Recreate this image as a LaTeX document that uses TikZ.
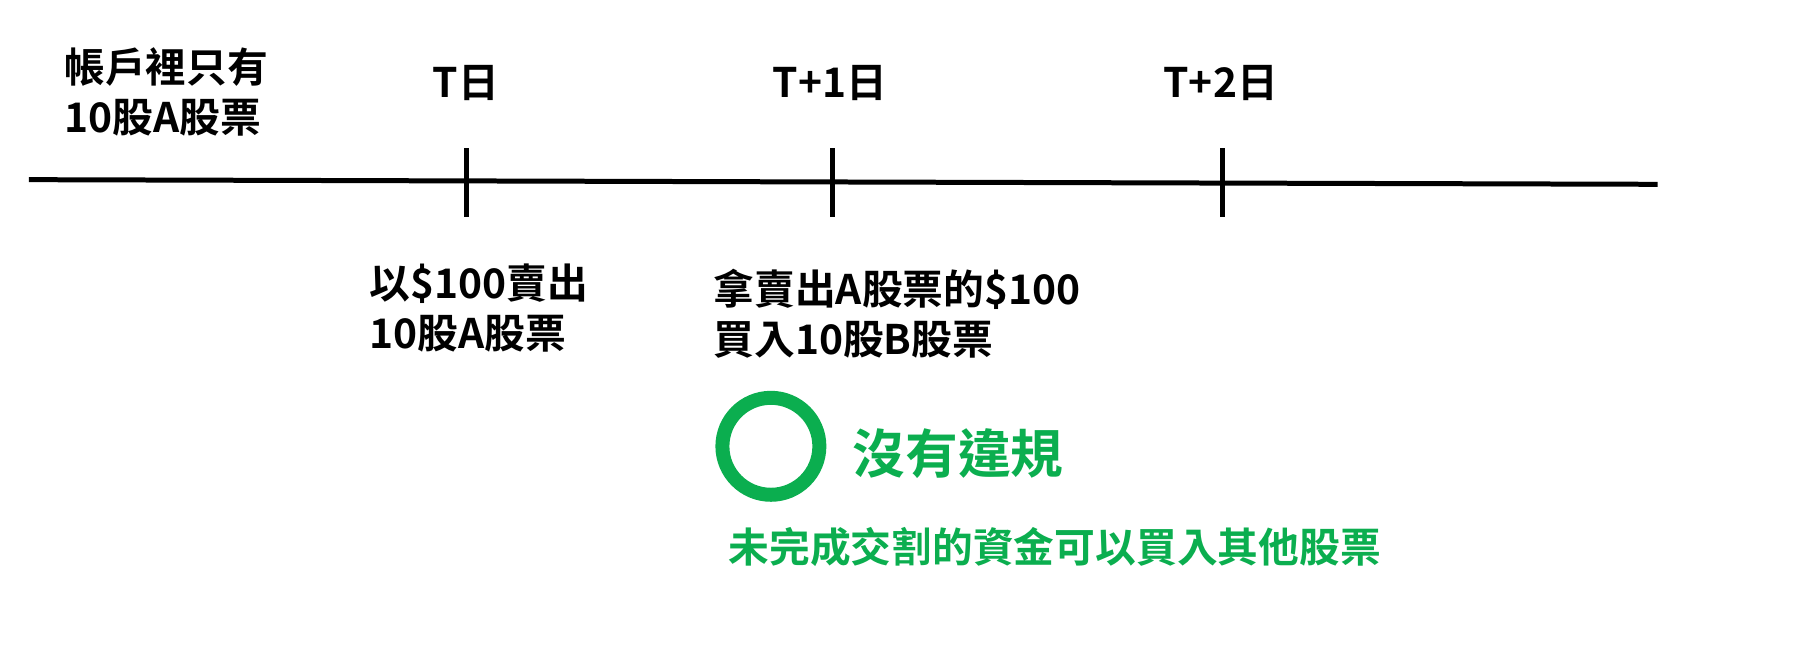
\documentclass[tikz,border=0pt]{standalone}
\usepackage{fontspec}
\setmainfont{Noto Sans CJK TC}[BoldFont={* Bold}]
\definecolor{gr}{HTML}{0BAE4F}
\begin{document}
\begin{tikzpicture}[x=0.01159cm,y=-0.01159cm,
  lbl/.style={font=\bfseries\fontsize{11.6pt}{14.2pt}\selectfont,align=left,inner sep=0},
  tk/.style={line width=0.05cm}]
\useasboundingbox (0,0) rectangle (1570,561);
\coordinate (l0) at (25,155); \coordinate (l1) at (1430,159);
\draw[tk] (l0) -- (l1);
\foreach \n/\x in {a/402,b/718,c/1055}{
  \coordinate (\n t) at (\x,128); \coordinate (\n b) at (\x,187);
  \draw[tk] (\n t) -- (\n b);}
\node[lbl,anchor=west] (s) at (55,79) {帳戶裡只有\\10股A股票};
\node[lbl] (t0) at (402,72) {T日};
\node[lbl] (t1) at (716,72) {T+1日};
\node[lbl] (t2) at (1053,72) {T+2日};
\node[lbl,anchor=west] (d0) at (318,266) {以\$100賣出\\10股A股票};
\node[lbl,anchor=west] (d1) at (615,271) {拿賣出A股票的\$100\\買入10股B股票};
\node[draw=gr,line width=0.14cm,circle,minimum size=0.97cm] (ok) at (665,385) {};
\node[lbl,text=gr,font=\bfseries\fontsize{15pt}{17pt}\selectfont,anchor=west] (n) at (735,391) {沒有違規};
\node[lbl,text=gr,anchor=west] (m) at (628,472) {未完成交割的資金可以買入其他股票};
\end{tikzpicture}
\end{document}
